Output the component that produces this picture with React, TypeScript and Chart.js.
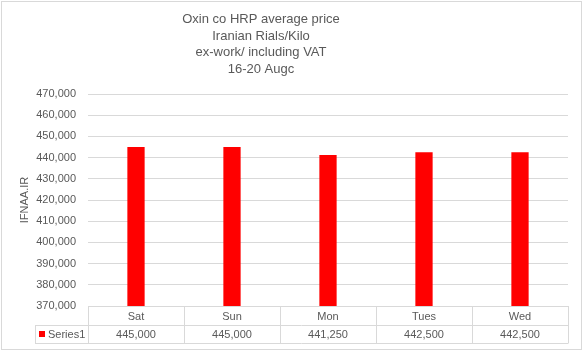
import React, { useEffect, useRef } from "react";
import { Chart, registerables } from "chart.js";

Chart.register(...registerables);

const titleLines = ["Oxin co HRP average price", "Iranian Rials/Kilo", "ex-work/ including VAT", "16-20 Augc"];
const categories = ["Sat", "Sun", "Mon", "Tues", "Wed"];
const seriesName = "Series1";
const values = [445000, 445000, 441250, 442500, 442500];
const valueLabels = ["445,000", "445,000", "441,250", "442,500", "442,500"];
const yAxisTitle = "IFNAA.IR";

const TEXT = "#595959";
const LINE = "#d9d9d9";
const FONT = "'Liberation Sans', Arial, sans-serif";

const customPlugin = {
  id: "excelLike",
  afterDraw(chart: any) {
    const ctx = chart.ctx;
    const area = chart.chartArea;
    const x = chart.scales.x;
    const n = categories.length;
    const colW = (area.right - area.left) / n;
    const rowTop = area.bottom;
    const rowMid = area.bottom + 19;
    const rowBot = area.bottom + 37;
    const legendLeft = 35;
    ctx.save();
    // outer border
    ctx.strokeStyle = LINE;
    ctx.lineWidth = 1;
    ctx.strokeRect(1.5, 1.5, chart.width - 3, chart.height - 3);
    // title
    ctx.fillStyle = TEXT;
    ctx.font = "13px " + FONT;
    ctx.textAlign = "center";
    ctx.textBaseline = "middle";
    titleLines.forEach((t, i) => {
      ctx.fillText(t, 261, 19.5 + i * 16.7);
    });
    // table lines
    ctx.beginPath();
    const hl = (x1: number, x2: number, y: number) => {
      ctx.moveTo(x1, Math.round(y) + 0.5);
      ctx.lineTo(x2, Math.round(y) + 0.5);
    };
    const vl = (xx: number, y1: number, y2: number) => {
      ctx.moveTo(Math.round(xx) + 0.5, y1);
      ctx.lineTo(Math.round(xx) + 0.5, y2);
    };
    hl(area.left, area.right, rowTop);
    hl(legendLeft, area.right, rowMid);
    hl(legendLeft, area.right, rowBot);
    for (let i = 0; i <= n; i++) {
      vl(area.left + i * colW, rowTop, rowBot + 0.5);
    }
    vl(legendLeft, rowMid, rowBot + 0.5);
    ctx.strokeStyle = LINE;
    ctx.stroke();
    // text in table
    ctx.font = "11px " + FONT;
    ctx.fillStyle = TEXT;
    ctx.textAlign = "center";
    categories.forEach((c, i) => {
      const cx = x.getPixelForValue(i);
      ctx.fillText(c, cx, (rowTop + rowMid) / 2 + 1);
      ctx.fillText(valueLabels[i], cx, (rowMid + rowBot) / 2 + 1);
    });
    // legend key
    ctx.fillStyle = "#ff0000";
    ctx.fillRect(39, rowMid + 6, 6, 6);
    ctx.fillStyle = TEXT;
    ctx.textAlign = "left";
    ctx.fillText(seriesName, 48, (rowMid + rowBot) / 2 + 1);
    ctx.restore();
  },
};

export default function App() {
  const ref = useRef<HTMLCanvasElement | null>(null);
  useEffect(() => {
    document.body.style.margin = "0";
    const canvas = ref.current!;
    const chart = new Chart(canvas, {
      type: "bar",
      data: {
        labels: categories,
        datasets: [
          {
            label: seriesName,
            data: values,
            backgroundColor: "#ff0000",
            borderWidth: 0,
            barPercentage: 0.18,
            categoryPercentage: 1,
          },
        ],
      },
      options: {
        responsive: false,
        animation: false,
        devicePixelRatio: 1,
        layout: { padding: { left: 14, right: 15, top: 94, bottom: 45 } },
        plugins: {
          legend: { display: false },
          title: { display: false },
          tooltip: { enabled: false },
        },
        scales: {
          x: {
            display: false,
          },
          y: {
            min: 370000,
            max: 470000,
            border: { display: false },
            grid: { color: LINE, drawTicks: false },
            ticks: {
              stepSize: 10000,
              padding: 12,
              color: TEXT,
              font: { family: FONT, size: 11 },
            },
            title: {
              display: true,
              text: yAxisTitle,
              color: TEXT,
              font: { family: FONT, size: 11 },
              padding: { top: 4, bottom: 4 },
            },
            afterFit: (s: any) => {
              s.width = 74;
            },
          },
        },
      },
      plugins: [customPlugin],
    });
    return () => chart.destroy();
  }, []);
  return (
    <div style={{ width: 583, height: 351, background: "#fff" }}>
      <canvas ref={ref} width={583} height={351} style={{ display: "block" }} />
    </div>
  );
}
